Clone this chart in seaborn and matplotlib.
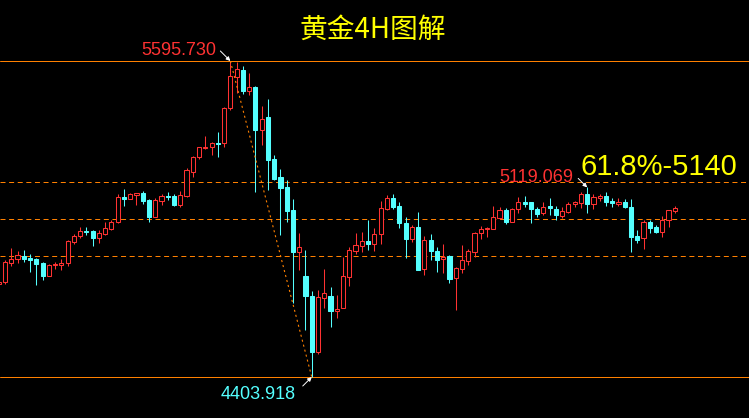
import numpy as np
import pandas as pd
import matplotlib
matplotlib.use("Agg")
import matplotlib.pyplot as plt
import seaborn as sns

# 4H candles
opens = [4755, 4763, 4835, 4848, 4861, 4853, 4849, 4834, 4786, 4825,
         4828, 4833, 4914, 4937, 4956, 4955, 4928, 4942, 4964, 4987,
         5083, 5076, 5092, 5098, 5071, 5008, 5068, 5087, 5087, 5054,
         5088, 5178, 5233, 5269, 5270, 5288, 5285, 5417, 5536, 5562,
         5484, 5498, 5336, 5386, 5226, 5159, 5120, 5034, 4877, 4786,
         4711, 4499, 4703, 4711, 4653, 4665, 4782, 4881, 4899, 4917,
         4906, 4943, 5039, 5078, 5049, 4985, 4924, 4970, 4810, 4921,
         4879, 4848, 4860, 4778, 4812, 4843, 4877, 4946, 4961, 4963,
         5002, 5033, 4990, 5036, 5064, 5063, 5038, 5024, 5049, 5038,
         5013, 5025, 5056, 5061, 5094, 5058, 5080, 5085, 5068, 5058,
         5065, 5044, 4936, 4927, 4990, 4968, 4950, 4995, 5031]
highs = [4770, 4845, 4890, 4879, 4883, 4868, 4853, 4838, 4830, 4838,
         4850, 4921, 4943, 4970, 4970, 4958, 4958, 4990, 4996, 5094,
         5113, 5098, 5098, 5105, 5074, 5078, 5094, 5102, 5094, 5107,
         5191, 5238, 5273, 5313, 5290, 5328, 5423, 5595.73, 5592, 5577,
         5552, 5500, 5427, 5452, 5241, 5188, 5147, 5075, 4947, 4883,
         4728, 4732, 4811, 4744, 4713, 4857, 4895, 4947, 4951, 4996,
         4966, 5068, 5090, 5094, 5064, 5007, 4977, 5026, 4936, 4943,
         4894, 4906, 4864, 4820, 4901, 4886, 4952, 4973, 4971, 5049,
         5045, 5041, 5040, 5083, 5087, 5065, 5045, 5064, 5079, 5050,
         5046, 5064, 5067, 5102, 5119.069, 5095, 5095, 5101, 5079, 5080,
         5074, 5074, 4958, 4996, 4996, 4977, 5010, 5035, 5049]
lows = [4747, 4755, 4823, 4834, 4838, 4800, 4752, 4770, 4785, 4812,
        4808, 4823, 4906, 4929, 4938, 4899, 4910, 4940, 4958, 4984,
        5050, 5074, 5053, 5058, 4990, 5006, 5053, 5071, 5049, 5046,
        5082, 5157, 5225, 5262, 5240, 5235, 5270, 5411, 5474, 5471,
        5468, 5103, 5279, 5109, 5147, 4940, 4990, 4682, 4808, 4581,
        4403.918, 4490, 4665, 4594, 4628, 4663, 4748, 4869, 4875, 4883,
        4879, 4906, 5034, 5039, 4967, 4854, 4913, 4806, 4789, 4845,
        4800, 4796, 4757, 4657, 4796, 4826, 4858, 4923, 4933, 4961,
        4999, 4981, 4989, 5021, 5045, 4986, 5008, 5015, 5015, 4996,
        5002, 5021, 5046, 5041, 5021, 5036, 5069, 5049, 5046, 5049,
        5040, 4877, 4908, 4886, 4946, 4946, 4933, 4971, 5021]
closes = [4762, 4837, 4849, 4863, 4850, 4845, 4830, 4785, 4826, 4831,
          4834, 4917, 4936, 4955, 4952, 4929, 4947, 4966, 4989, 5082,
          5076, 5094, 5098, 5068, 5008, 5071, 5085, 5082, 5053, 5090,
          5185, 5233, 5270, 5273, 5287, 5282, 5417, 5539, 5564, 5484,
          5498, 5336, 5377, 5222, 5150, 5117, 5030, 4877, 4894, 4711,
          4499, 4706, 4721, 4653, 4660, 4785, 4882, 4901, 4917, 4906,
          4943, 5041, 5078, 5046, 4986, 4924, 4970, 4808, 4921, 4878,
          4846, 4855, 4775, 4815, 4844, 4879, 4947, 4961, 4966, 5006,
          5033, 4988, 5036, 5063, 5058, 5036, 5020, 5046, 5040, 5014,
          5030, 5056, 5063, 5094, 5058, 5082, 5087, 5065, 5059, 5065,
          5044, 4933, 4921, 4987, 4967, 4950, 4995, 5033, 5041]

title = "黄金4H图解"
fib_text = "61.8%-5140"
fib_ratios = [0.382, 0.5, 0.618]

UP = "#ff3232"
DOWN = "#54ffff"
ORANGE = "#ff8000"
YELLOW = "#ffff00"

sns.set_theme(style="dark", rc={"axes.facecolor": "black",
                                "figure.facecolor": "black"})
plt.rcParams["font.family"] = ["Liberation Sans", "Noto Sans CJK SC", "DejaVu Sans"]
plt.rcParams["lines.scale_dashes"] = False

df = pd.DataFrame({"open": opens, "high": highs, "low": lows, "close": closes})
df["x"] = np.arange(len(df))
up = df.close >= df.open
body_lo = df[["open", "close"]].min(axis=1)
body_h = (df.close - df.open).abs().clip(lower=3.5)

fig = plt.figure(figsize=(7.49, 4.18), dpi=100)
ax = fig.add_axes([0, 0, 1, 1])
ax.set_facecolor("black")

# wicks, then bodies on top (hollow red for up, filled cyan for down)
ax.vlines(df.x, df.low, df.high, colors=np.where(up, UP, DOWN),
          linewidth=0.75, zorder=2)
ax.bar(df.x[up], body_h[up], bottom=body_lo[up], width=0.66,
       facecolor="black", edgecolor=UP, linewidth=0.75, zorder=3)
ax.bar(df.x[~up], body_h[~up], bottom=body_lo[~up], width=0.66,
       facecolor=DOWN, edgecolor=DOWN, linewidth=0.75, zorder=3)

hi = df.high.max()
lo = df.low.min()
i_hi = int(df.high.idxmax())
i_lo = int(df.low.idxmin())
i_mid = i_lo + int(np.argmax(df.high.values[i_lo:]))
mid = df.high[i_mid]

ax.axhline(hi, color=ORANGE, lw=0.72, snap=True, zorder=1)
ax.axhline(lo, color=ORANGE, lw=0.72, snap=True, zorder=1)
for r in fib_ratios:
    ax.axhline(lo + r * (hi - lo), color=ORANGE, lw=0.72, snap=True,
               linestyle=(0, (3.6, 2.6)), zorder=1)

ax.plot([i_hi, i_lo], [hi, lo], color=ORANGE, lw=0.8,
        linestyle=(0, (1.5, 2.2)), zorder=4)

arrow = dict(arrowstyle="-|>", color="white", lw=0.7, mutation_scale=6,
             shrinkA=0, shrinkB=0)
labels = [(i_hi, hi, "%.3f" % hi, UP, (-14, 6), (-10, 10)),
          (i_lo, lo, "%.3f" % lo, DOWN, (-16, -22), (-9, -9)),
          (i_mid, mid, "%.3f" % mid, UP, (-14, 5), (-9, 9))]
for xi, yv, txt, col, toff, aoff in labels:
    ax.annotate(txt, xy=(xi, yv), xytext=toff, textcoords="offset pixels",
                ha="right", va="baseline", color=col, fontsize=13, zorder=5)
    ax.annotate("", xy=(xi, yv), xytext=aoff, textcoords="offset pixels",
                arrowprops=arrow, zorder=5)

fig.text(0.497, 0.928, title, ha="center", va="center", fontsize=20,
         color=YELLOW, family=["Noto Sans CJK SC", "DejaVu Sans"])
fig.text(580 / 749, 1 - 175 / 418, fib_text, ha="left", va="baseline",
         fontsize=21, color=YELLOW)

ax.set_xlim(0.2, 119.85)
ax.set_ylim(4249.3, 5825.8)
ax.set_axis_off()

fig.savefig("out.png", dpi=100, facecolor="black")
